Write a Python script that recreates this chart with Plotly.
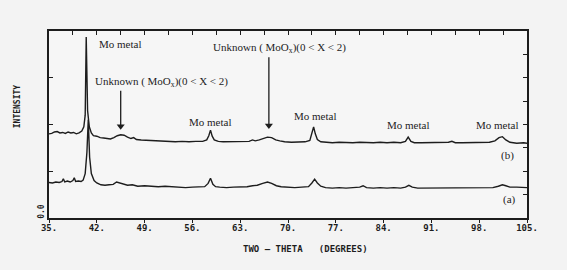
import plotly.graph_objects as go

# ---------------- data ----------------
two_theta_b = [35.0, 35.4, 35.8, 36.2, 36.6, 37.0, 37.4, 37.8, 38.2, 38.6, 39.0, 39.4, 39.8, 40.1, 40.3,
               40.45, 40.65, 40.9, 41.2, 41.5, 42.0, 42.5, 43.0, 43.5, 44.0, 44.5, 45.0, 45.5, 46.0, 46.5,
               47.0, 47.4, 47.8, 48.5, 49.5, 50.5, 51.5, 52.5, 53.5, 54.5, 55.5, 56.5, 57.5, 58.1, 58.4,
               58.65, 58.9, 59.2, 59.8, 60.5, 61.5, 62.5, 63.5, 64.3, 64.8, 65.2, 65.8, 66.4, 67.0, 67.6,
               68.2, 68.8, 69.5, 70.5, 71.5, 72.5, 73.2, 73.5, 73.75, 74.0, 74.3, 74.8, 75.5, 76.5, 77.5,
               78.5, 79.5, 80.5, 81.5, 82.5, 83.5, 84.5, 85.5, 86.5, 87.2, 87.6, 88.0, 88.5, 89.5, 90.5,
               91.5, 92.5, 93.5, 94.0, 94.5, 95.5, 96.5, 97.5, 98.5, 99.5, 100.3, 100.9, 101.4, 101.9,
               102.5, 103.5, 104.5, 105.0]
intensity_b = [1.80, 1.81, 1.84, 1.85, 1.82, 1.83, 1.81, 1.84, 1.82, 1.83, 1.80, 1.82, 1.86, 1.95, 2.20,
               3.87, 2.30, 1.95, 1.82, 1.76, 1.75, 1.72, 1.71, 1.70, 1.69, 1.72, 1.76, 1.78, 1.77, 1.73,
               1.70, 1.72, 1.68, 1.67, 1.66, 1.65, 1.64, 1.64, 1.63, 1.64, 1.63, 1.64, 1.64, 1.67, 1.76,
               1.88, 1.75, 1.67, 1.64, 1.63, 1.63, 1.63, 1.64, 1.64, 1.67, 1.65, 1.67, 1.70, 1.73, 1.72,
               1.67, 1.65, 1.63, 1.62, 1.62, 1.63, 1.66, 1.80, 1.95, 1.80, 1.68, 1.63, 1.62, 1.61, 1.62,
               1.61, 1.61, 1.62, 1.61, 1.61, 1.62, 1.61, 1.62, 1.61, 1.64, 1.73, 1.64, 1.61, 1.61, 1.61,
               1.62, 1.61, 1.62, 1.64, 1.61, 1.61, 1.61, 1.61, 1.62, 1.62, 1.65, 1.72, 1.74, 1.67,
               1.62, 1.60, 1.61, 1.60]

two_theta_a = [35.0, 35.5, 36.0, 36.5, 36.9, 37.1, 37.3, 37.7, 38.1, 38.5, 38.7, 38.9, 39.3, 39.7, 40.0,
               40.3, 40.55, 40.75, 40.95, 41.2, 41.6, 42.0, 42.6, 43.2, 43.8, 44.4, 44.9, 45.3, 45.8, 46.5,
               47.2, 48.0, 49.0, 50.0, 51.0, 52.0, 53.0, 54.0, 55.0, 56.0, 57.0, 57.8, 58.3, 58.65, 59.0,
               59.4, 60.0, 61.0, 62.0, 63.0, 64.0, 64.8, 65.5, 66.3, 67.0, 67.6, 68.3, 69.0, 70.0, 71.0,
               72.0, 73.0, 73.5, 73.9, 74.3, 74.8, 75.5, 76.5, 77.5, 78.5, 79.5, 80.5, 81.0, 81.5, 82.5,
               83.5, 84.5, 85.5, 86.5, 87.2, 87.7, 88.2, 89.0, 90.0, 91.0, 92.0, 93.0, 94.0, 95.0, 96.0,
               97.0, 98.0, 99.0, 100.0, 100.8, 101.4, 101.9, 102.5, 103.5, 104.5, 105.0]
intensity_a = [0.76, 0.75, 0.77, 0.76, 0.78, 0.84, 0.77, 0.79, 0.77, 0.80, 0.86, 0.78, 0.79, 0.78, 0.81,
               0.95, 1.40, 2.10, 1.30, 0.95, 0.80, 0.75, 0.71, 0.70, 0.71, 0.72, 0.77, 0.75, 0.72, 0.70,
               0.71, 0.68, 0.69, 0.68, 0.67, 0.68, 0.67, 0.66, 0.65, 0.66, 0.66, 0.67, 0.74, 0.85, 0.72,
               0.67, 0.66, 0.65, 0.66, 0.66, 0.67, 0.69, 0.70, 0.74, 0.77, 0.74, 0.69, 0.67, 0.66, 0.65,
               0.66, 0.67, 0.75, 0.83, 0.75, 0.68, 0.65, 0.64, 0.65, 0.64, 0.65, 0.66, 0.69, 0.65, 0.64,
               0.65, 0.64, 0.65, 0.64, 0.66, 0.70, 0.66, 0.64, 0.64, 0.65, 0.64, 0.65, 0.64, 0.65, 0.64,
               0.65, 0.65, 0.64, 0.65, 0.68, 0.71, 0.69, 0.66, 0.66, 0.66, 0.65]

x_tick_values = [35, 42, 49, 56, 63, 70, 77, 84, 91, 98, 105]
x_tick_labels = ["35.", "42.", "49.", "56.", "63.", "70.", "77.", "84.", "91.", "98.", "105."]

# peak labels: (text, two-theta, intensity position)
peak_labels = [
    ("Mo metal", 45.4, 3.72),
    ("Unknown ( MoO<sub>x</sub>)(0 &lt; X &lt; 2)", 51.5, 2.91),
    ("Unknown ( MoO<sub>x</sub>)(0 &lt; X &lt; 2)", 68.8, 3.64),
    ("Mo metal", 58.6, 2.05),
    ("Mo metal", 73.9, 2.18),
    ("Mo metal", 87.6, 1.99),
    ("Mo metal", 100.6, 1.99),
    ("(b)", 102.2, 1.33),
    ("(a)", 102.5, 0.39),
]
# arrows: (two-theta, head intensity, tail intensity)
arrow_theta = [45.5, 67.2]
arrow_head = [1.90, 1.92]
arrow_tail = [2.72, 3.44]

# ---------------- figure ----------------
ink = "#1d1d1d"
mono = "DejaVu Sans Mono"
serif = "Liberation Serif"

fig = go.Figure()
fig.add_trace(go.Scatter(x=two_theta_b, y=intensity_b, mode="lines",
                         line=dict(color=ink, width=1.4), hoverinfo="skip", showlegend=False))
fig.add_trace(go.Scatter(x=two_theta_a, y=intensity_a, mode="lines",
                         line=dict(color=ink, width=1.4), hoverinfo="skip", showlegend=False))
# arrows: shaft + triangular head
for xx, yh, yt in zip(arrow_theta, arrow_head, arrow_tail):
    fig.add_trace(go.Scatter(x=[xx, xx], y=[yt, yh + 0.08], mode="lines",
                             line=dict(color=ink, width=1.3), hoverinfo="skip", showlegend=False))
    fig.add_trace(go.Scatter(x=[xx], y=[yh + 0.06], mode="markers",
                             marker=dict(symbol="triangle-down", size=7, color=ink, line=dict(width=0)),
                             hoverinfo="skip", showlegend=False))
# invisible helpers so the tick-only overlay axes are drawn
fig.add_trace(go.Scatter(x=[35], y=[0], xaxis="x2", yaxis="y", mode="markers",
                         marker=dict(opacity=0), hoverinfo="skip", showlegend=False))
fig.add_trace(go.Scatter(x=[35], y=[0], xaxis="x", yaxis="y2", mode="markers",
                         marker=dict(opacity=0), hoverinfo="skip", showlegend=False))

annotations = []
for text, xx, yy in peak_labels:
    annotations.append(dict(x=xx, y=yy, xref="x", yref="y", text=text, showarrow=False,
                            font=dict(family=serif, size=11, color=ink),
                            xanchor="center", yanchor="middle"))
annotations.append(dict(x=72.5, y=-0.165, xref="x", yref="paper",
                        text="TWO – THETA &nbsp;&nbsp;(DEGREES)", showarrow=False,
                        font=dict(family=mono, size=9, color=ink, weight="bold"),
                        xanchor="center", yanchor="middle"))
annotations.append(dict(x=-0.066, y=0.60, xref="paper", yref="paper", text="INTENSITY",
                        showarrow=False, textangle=-90,
                        font=dict(family=mono, size=8, color=ink, weight="bold"),
                        xanchor="center", yanchor="middle"))
annotations.append(dict(x=-0.016, y=0.035, xref="paper", yref="paper", text="0.0",
                        showarrow=False, textangle=-90,
                        font=dict(family=mono, size=8, color=ink, weight="bold"),
                        xanchor="center", yanchor="middle"))

fig.update_layout(
    width=567, height=270, autosize=False,
    margin=dict(l=49, r=40, t=31, b=52, pad=0),
    paper_bgcolor="#f3f3f3", plot_bgcolor="#f6f6f6",
    showlegend=False,
    annotations=annotations,
    xaxis=dict(range=[35, 105], tickmode="array", tickvals=x_tick_values, ticktext=x_tick_labels,
               ticks="outside", ticklen=3, tickwidth=1.3, tickcolor=ink, ticklabelstandoff=-3,
               tickfont=dict(family=mono, size=9, color=ink, weight="bold"),
               showline=True, linecolor=ink, linewidth=1.5, mirror=True,
               showgrid=False, zeroline=False),
    xaxis2=dict(range=[35, 105], overlaying="x", side="top", anchor="y",
                tickmode="linear", tick0=35, dtick=3.5, ticks="inside", ticklen=4, tickwidth=1.3,
                tickcolor=ink, showticklabels=False, showgrid=False, zeroline=False, showline=False),
    yaxis=dict(range=[0, 4], tickmode="linear", tick0=0, dtick=1, ticks="inside", ticklen=4,
               tickwidth=1.3, tickcolor=ink, showticklabels=False,
               showline=True, linecolor=ink, linewidth=1.5, mirror=True,
               showgrid=False, zeroline=False),
    yaxis2=dict(range=[0, 4], overlaying="y", side="right", anchor="x",
                tickmode="linear", tick0=0, dtick=0.5, ticks="inside", ticklen=4, tickwidth=1.3,
                tickcolor=ink, showticklabels=False, showgrid=False, zeroline=False, showline=False),
)

fig.write_html("out.html")
